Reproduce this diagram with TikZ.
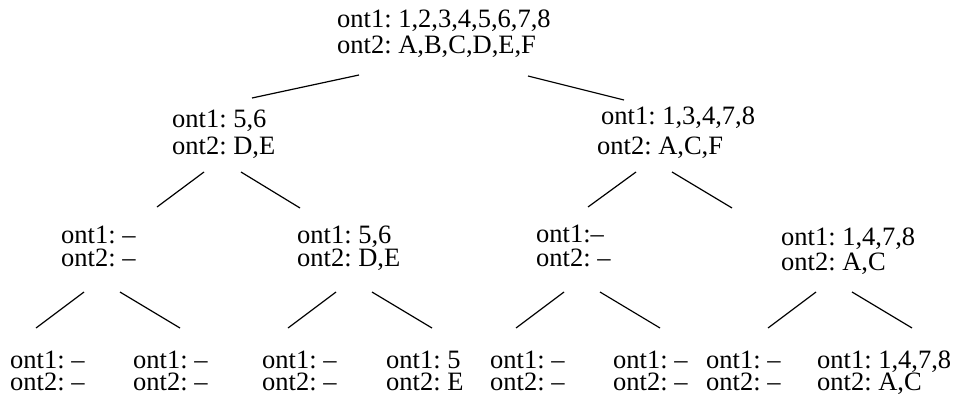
\documentclass[tikz,border=0pt]{standalone}
\usepackage{fontspec}
\setmainfont{Liberation Serif}
\newcommand{\twoline}[3]{\vtop{\baselineskip=#3\lineskiplimit=-100pt\hbox{#1}\hbox{#2}}}
\tikzset{
  tn/.style={inner sep=0pt, anchor=base west, font=\fontsize{26.5pt}{26.5pt}\selectfont\frenchspacing},
  edge/.style={line width=1.2pt, black}
}
\begin{document}
\begin{tikzpicture}[x=1pt,y=-1pt]
\useasboundingbox (0,0) rectangle (956,399);
% level 0
\node[tn] (root) at (337,27) {\twoline{ont1: 1,2,3,4,5,6,7,8}{ont2: A,B,C,D,E,F}{26pt}};
% level 1
\node[tn] (a) at (172,127) {\twoline{ont1: 5,6}{ont2: D,E}{27pt}};
\node[tn] (b) at (597,124) {\twoline{\kern4pt ont1: 1,3,4,7,8}{ont2: A,C,F}{30pt}};
% level 2
\node[tn] (aa) at (61,243) {\twoline{ont1: –}{ont2: –}{23pt}};
\node[tn] (ab) at (297,243) {\twoline{ont1: 5,6}{ont2: D,E}{23pt}};
\node[tn] (ba) at (536,242) {\twoline{ont1:–}{ont2: –}{24pt}};
\node[tn] (bb) at (781,245) {\twoline{ont1: 1,4,7,8}{ont2: A,C}{25pt}};
% level 3
\node[tn] (aaa) at (10,368) {\twoline{ont1: –}{ont2: –}{22pt}};
\node[tn] (aab) at (133,368) {\twoline{ont1: –}{ont2: –}{22pt}};
\node[tn] (aba) at (262,368) {\twoline{ont1: –}{ont2: –}{22pt}};
\node[tn] (abb) at (386,368) {\twoline{ont1: 5}{ont2: E}{22pt}};
\node[tn] (baa) at (490,368) {\twoline{ont1: –}{ont2: –}{22pt}};
\node[tn] (bab) at (613,368) {\twoline{ont1: –}{ont2: –}{22pt}};
\node[tn] (bba) at (706,368) {\twoline{ont1: –}{ont2: –}{22pt}};
\node[tn] (bbb) at (817,368) {\twoline{ont1: 1,4,7,8}{ont2: A,C}{22pt}};
% connector end points
\coordinate (root-l) at (359,75);  \coordinate (a-t) at (252,98);
\coordinate (root-r) at (528,76);  \coordinate (b-t) at (624,100);
\coordinate (a-l) at (204,172);    \coordinate (aa-t) at (157,207);
\coordinate (a-r) at (241,172);    \coordinate (ab-t) at (300,208);
\coordinate (b-l) at (636,172);    \coordinate (ba-t) at (588,207);
\coordinate (b-r) at (672,172);    \coordinate (bb-t) at (732,208);
\coordinate (aa-l) at (84,292);    \coordinate (aaa-t) at (36,328);
\coordinate (aa-r) at (120,292);   \coordinate (aab-t) at (180,328);
\coordinate (ab-l) at (336,292);   \coordinate (aba-t) at (288,328);
\coordinate (ab-r) at (372,292);   \coordinate (abb-t) at (432,328);
\coordinate (ba-l) at (564,292);   \coordinate (baa-t) at (516,328);
\coordinate (ba-r) at (600,292);   \coordinate (bab-t) at (660,328);
\coordinate (bb-l) at (816,292);   \coordinate (bba-t) at (768,328);
\coordinate (bb-r) at (852,292);   \coordinate (bbb-t) at (912,328);
% connectors
\draw[edge] (root-l) -- (a-t);
\draw[edge] (root-r) -- (b-t);
\draw[edge] (a-l) -- (aa-t);
\draw[edge] (a-r) -- (ab-t);
\draw[edge] (b-l) -- (ba-t);
\draw[edge] (b-r) -- (bb-t);
\draw[edge] (aa-l) -- (aaa-t);
\draw[edge] (aa-r) -- (aab-t);
\draw[edge] (ab-l) -- (aba-t);
\draw[edge] (ab-r) -- (abb-t);
\draw[edge] (ba-l) -- (baa-t);
\draw[edge] (ba-r) -- (bab-t);
\draw[edge] (bb-l) -- (bba-t);
\draw[edge] (bb-r) -- (bbb-t);
\end{tikzpicture}
\end{document}
